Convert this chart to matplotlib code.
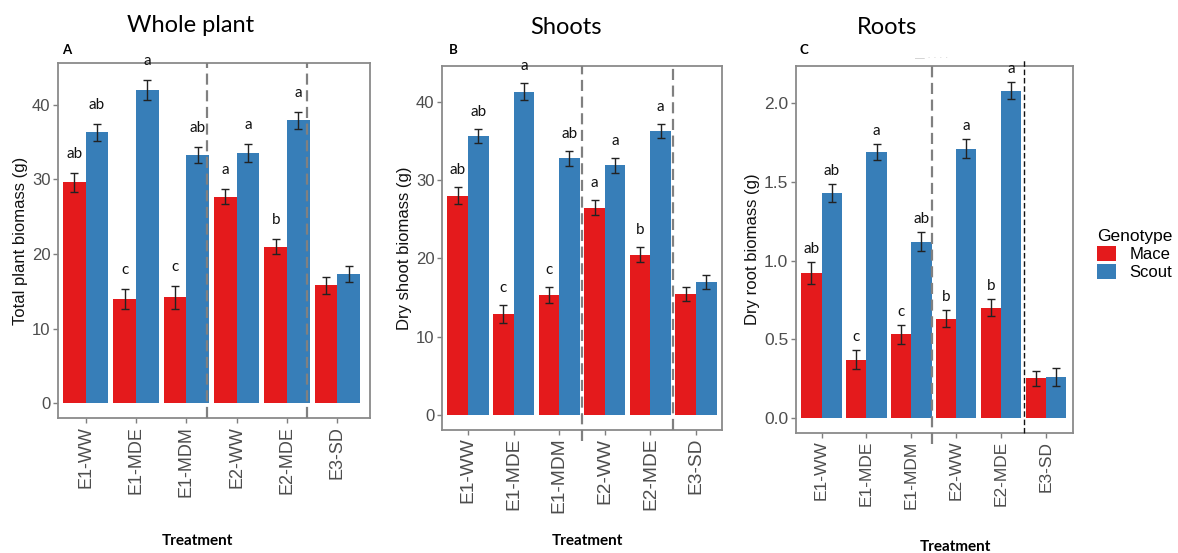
import matplotlib
matplotlib.use("Agg")
import matplotlib.pyplot as plt
from matplotlib.patches import Patch
import numpy as np

# data
treatments = ["E1-WW", "E1-MDE", "E1-MDM", "E2-WW", "E2-MDE", "E3-SD"]

whole_mace = [29.6, 14.0, 14.2, 27.7, 21.0, 15.8]
whole_mace_se = [1.3, 1.3, 1.5, 1.0, 1.0, 1.1]
whole_scout = [36.3, 42.0, 33.3, 33.6, 37.9, 17.3]
whole_scout_se = [1.1, 1.3, 1.1, 1.2, 1.1, 1.1]
whole_mace_let = ["ab", "c", "c", "a", "b", ""]
whole_scout_let = ["ab", "a", "ab", "a", "a", ""]

shoot_mace = [28.0, 12.9, 15.3, 26.5, 20.5, 15.5]
shoot_mace_se = [1.1, 1.1, 1.0, 1.0, 1.0, 0.9]
shoot_scout = [35.7, 41.3, 32.8, 31.9, 36.3, 17.0]
shoot_scout_se = [0.9, 1.1, 1.0, 1.0, 0.9, 0.9]
shoot_mace_let = ["ab", "c", "c", "a", "b", ""]
shoot_scout_let = ["ab", "a", "ab", "a", "a", ""]

root_mace = [0.92, 0.37, 0.53, 0.63, 0.70, 0.25]
root_mace_se = [0.07, 0.06, 0.06, 0.055, 0.055, 0.05]
root_scout = [1.43, 1.69, 1.12, 1.71, 2.08, 0.26]
root_scout_se = [0.055, 0.05, 0.06, 0.06, 0.055, 0.055]
root_mace_let = ["ab", "c", "c", "b", "b", ""]
root_scout_let = ["ab", "a", "ab", "a", "a", ""]

RED = "#E41A1C"
BLUE = "#377EB8"
SANS = "Liberation Sans"
CAL = "Lato"

W, H = 1178, 553
fig = plt.figure(figsize=(W / 100, H / 100), dpi=100)


def box(l, t, r, b):
    return [l / W, 1 - b / H, (r - l) / W, (b - t) / H]


def panel(rect, mace, mace_se, scout, scout_se, mlet, slet, ylim, yticks,
          ylabel, xlim, lab_off, tick_fs, xt_fs):
    ax = fig.add_axes(rect)
    x = np.arange(len(treatments))
    w = 0.45
    ax.bar(x - w / 2, mace, w, color=RED, linewidth=0, zorder=2)
    ax.bar(x + w / 2, scout, w, color=BLUE, linewidth=0, zorder=2)
    ax.errorbar(x - w / 2, mace, yerr=mace_se, fmt="none", ecolor="#222222",
                elinewidth=1, capsize=3.2, capthick=1, zorder=3)
    ax.errorbar(x + w / 2, scout, yerr=scout_se, fmt="none", ecolor="#222222",
                elinewidth=1, capsize=3.2, capthick=1, zorder=3)
    for xs, vals, errs, lets in [(x - w / 2, mace, mace_se, mlet),
                                 (x + w / 2, scout, scout_se, slet)]:
        for xi, v, e, t in zip(xs, vals, errs, lets):
            if t:
                ax.annotate(t, (xi, v + e), xytext=(0, lab_off),
                            textcoords="offset pixels", ha="center",
                            va="center", fontsize=11, family=CAL,
                            color="#111111")
    ax.set_xlim(*xlim)
    ax.set_ylim(*ylim)
    ax.set_yticks(yticks)
    ax.set_xticks(x)
    ax.set_xticklabels(treatments, rotation=90, fontsize=xt_fs, family=SANS,
                       color="#4d4d4d")
    for lb in ax.get_yticklabels():
        lb.set_family(SANS)
        lb.set_fontsize(tick_fs)
        lb.set_color("#4d4d4d")
    ax.tick_params(length=3.5, width=1, color="#7f7f7f", pad=2)
    for s in ax.spines.values():
        s.set_color("#8a8a8a")
        s.set_linewidth(1.3)
    ax.set_ylabel(ylabel, fontsize=12, family=SANS, color="#111111",
                  labelpad=3)
    return ax


axA = panel(box(58, 63, 370, 418), whole_mace, whole_mace_se, whole_scout,
            whole_scout_se, whole_mace_let, whole_scout_let, (-1.97, 45.6),
            [0, 10, 20, 30, 40], "Total plant biomass (g)", (-0.55, 5.65),
            19, 12, 13)
axB = panel(box(442, 66, 722, 430), shoot_mace, shoot_mace_se, shoot_scout,
            shoot_scout_se, shoot_mace_let, shoot_scout_let, (-1.92, 44.6),
            [0, 10, 20, 30, 40], "Dry shoot biomass (g)", (-0.57, 5.57),
            17, 12, 13.8)
axC = panel(box(796, 66, 1073, 433), root_mace, root_mace_se, root_scout,
            root_scout_se, root_mace_let, root_scout_let, (-0.097, 2.237),
            [0.0, 0.5, 1.0, 1.5, 2.0], "Dry root biomass (g)", (-0.57, 5.6),
            13, 12.5, 12.5)
axC.set_yticklabels(["0.0", "0.5", "1.0", "1.5", "2.0"])

dash = dict(color="#808080", linewidth=1.6, linestyle=(0, (5, 2.5)), zorder=4)
axA.axvline(2.42, **dash)
axA.axvline(4.40, **dash)
axB.axvline(2.5, ymin=-0.03, ymax=1, clip_on=False, **dash)
axB.axvline(4.5, **dash)
axC.axvline(2.47, ymin=-0.03, ymax=1, clip_on=False, **dash)
axC.axvline(4.5, ymin=0, ymax=1.02, clip_on=False, color="#111111",
            linewidth=1, linestyle=(0, (4, 2)), zorder=4)

# panel titles, letters, x titles
fig.text(191 / W, 1 - 26 / H, "Whole plant", ha="center", va="center",
         fontsize=17, family=CAL)
fig.text(566 / W, 1 - 27 / H, "Shoots", ha="center", va="center",
         fontsize=17, family=CAL)
fig.text(887 / W, 1 - 27 / H, "Roots", ha="center", va="center",
         fontsize=17, family=CAL)
for lx, t in [(62, "A"), (449, "B"), (800, "C")]:
    fig.text(lx / W, 1 - 50 / H, t, ha="left", va="center", fontsize=9.5,
             family=CAL, fontweight="bold")
fig.text(932 / W, 1 - 58 / H, "\u2014 \u00b7 \u00b7 \u00b7 \u00b7", ha="center",
         va="center", fontsize=7, color="#c8c8c8", family=SANS)
for tx, ty in [(197, 541), (587, 541), (955, 547)]:
    fig.text(tx / W, 1 - ty / H, "Treatment", ha="center", va="center",
             fontsize=11, family=CAL, fontweight="bold")

handles = [Patch(facecolor=RED, label="Mace"), Patch(facecolor=BLUE, label="Scout")]
leg = fig.legend(handles=handles, title="Genotype", loc="upper left",
                 bbox_to_anchor=(1082 / W, 1 - 214 / H), frameon=False,
                 prop={"family": SANS, "size": 12}, handlelength=1.15,
                 handleheight=1.05, labelspacing=0.1, handletextpad=0.8,
                 alignment="left")
leg.get_title().set_fontsize(12.5)
leg.get_title().set_family(SANS)

fig.savefig("out.png", dpi=100)
